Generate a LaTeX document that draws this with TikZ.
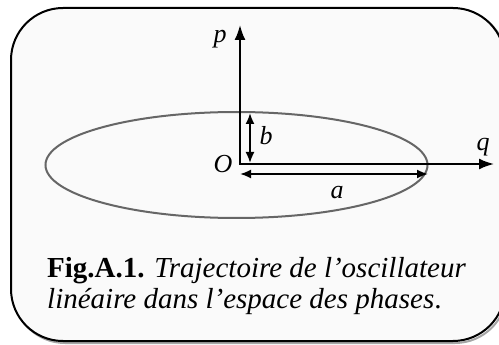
\documentclass[tikz,border=0pt]{standalone}
\usepackage{fontspec}
\setmainfont{Liberation Serif}
\usetikzlibrary{arrows.meta,shapes.geometric}

\begin{document}
\begin{tikzpicture}[
  x=1pt, y=-1pt,
  every node/.style={font=\fontsize{26}{29}\selectfont\itshape, inner sep=0pt},
  axe/.style={{Latex[length=15pt,width=11pt]}-{Latex[length=15pt,width=11pt]}, line width=2pt},
  cote/.style={{Latex[length=11pt,width=9pt]}-{Latex[length=11pt,width=9pt]}, line width=1.8pt},
  legende/.style={anchor=base west, font=\fontsize{29}{31}\selectfont}
]
\useasboundingbox (0,0) rectangle (499,345);
\clip (0,0) rectangle (499,345);

% Cadre
\draw[line width=2pt, gray!70, rounded corners=52pt] (13,10) rectangle (507,343);
\draw[line width=2pt, fill=black!2, rounded corners=52pt] (11,8) rectangle (505,341);

% Trajectoire
\node[
  draw=black!60,
  line width=2pt,
  ellipse,
  minimum width=382pt,
  minimum height=106pt
] (orbite) at (236.5,165) {};

% Points
\coordinate (O) at (240,164);
\coordinate (ptip) at (240,25);
\coordinate (qtip) at (494,164);
\coordinate (bhaut) at (250,113);
\coordinate (bbas) at (250,163);
\coordinate (agauche) at (240,174);
\coordinate (adroite) at (428,174);

% Axes
\draw[axe] (ptip) -- (O) -- (qtip);

% Demi-axes
\draw[cote] (bhaut) -- (bbas);
\draw[cote] (agauche) -- (adroite);

% Etiquettes
\node[anchor=base] (p) at (220,43) {p};
\node[anchor=base] (q) at (483,151) {q};
\node[anchor=base] (o) at (223,173) {O};
\node[anchor=base] (b) at (266,145) {b};
\node[anchor=base] (a) at (337,198) {a};

% Legende
\node[legende] (leg1) at (47,277) {\textbf{Fig.A.1.} \textit{Trajectoire de l’oscillateur}};
\node[legende] (leg2) at (47,308) {\textit{linéaire dans l’espace des phases}.};

\end{tikzpicture}
\end{document}
